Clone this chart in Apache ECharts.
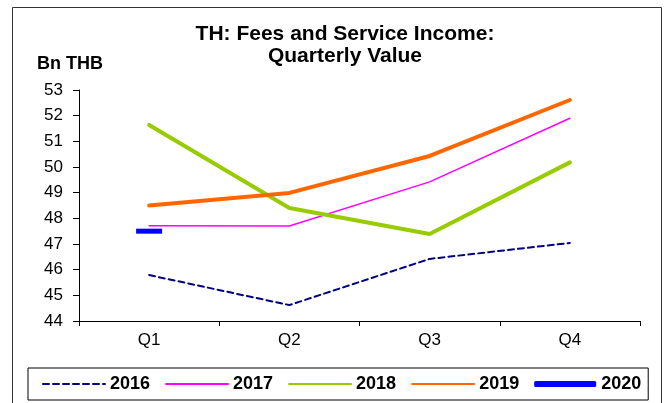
<!DOCTYPE html>
<html lang="en">
<head>
	<meta charset="UTF-8">
	<title>TH Fees and Service Income</title>
	<style>
		html, body { margin: 0; padding: 0; background: #fff; }
	</style>
</head>
<body>
	<div id="chart" style="width:667px;height:403px;"></div>
</body>
</html>
<script src="https://cdn.jsdelivr.net/npm/echarts@6/dist/echarts.min.js"></script>
<script>
	// quarterly data, Bn THB
	var quarters = ['Q1', 'Q2', 'Q3', 'Q4'];
	var years = ['2016', '2017', '2018', '2019', '2020'];
	var v2016 = [45.79, 44.62, 46.42, 47.04];
	var v2017 = [47.71, 47.70, 49.42, 51.90];
	var v2018 = [51.64, 48.40, 47.39, 50.18];
	var v2019 = [48.50, 48.99, 50.43, 52.61];
	var v2020 = [47.50, '-', '-', '-'];

	var lineColors = ['#000080', '#ff00ff', '#99cc00', '#ff6600', '#0000ff'];
	var lineWidths = [2, 1.5, 4, 4, 4];
	var allValues = [v2016, v2017, v2018, v2019, v2020];

	var font = 'Arial, "Liberation Sans", sans-serif';

	var series = [];
	for (var i = 0; i < years.length; i++) {
		var s = {
			name: years[i],
			type: 'line',
			data: allValues[i],
			symbol: 'none',
			lineStyle: {
				color: lineColors[i],
				width: lineWidths[i],
				type: i == 0 ? [6, 4] : 'solid',
				cap: 'round'
			},
			itemStyle: { color: lineColors[i] },
			z: 2 + i
		};
		if (years[i] == '2020') {
			// single point drawn as a short dash
			s.symbol = 'rect';
			s.symbolSize = [26, 5];
			s.showSymbol = true;
		}
		series.push(s);
	}

	var legendData = [];
	for (var j = 0; j < years.length; j++) {
		if (years[j] == '2020') {
			legendData.push({ name: years[j], icon: 'roundRect', itemStyle: { color: lineColors[j], opacity: 1 } });
		} else {
			legendData.push({ name: years[j] });
		}
	}

	var chart = echarts.init(document.getElementById('chart'));
	var option = {
		animation: false,
		backgroundColor: '#fff',
		title: {
			text: 'TH: Fees and Service Income:\nQuarterly Value',
			left: 345,
			top: 23,
			textAlign: 'center',
			padding: 0,
			textStyle: {
				fontFamily: font,
				fontSize: 21,
				fontWeight: 'bold',
				color: '#000',
				lineHeight: 22
			}
		},
		graphic: [
			{
				type: 'rect',
				shape: { x: 12.5, y: 7.5, width: 649, height: 400 },
				style: { fill: 'none', stroke: '#333', lineWidth: 1 },
				silent: true
			},
			{
				type: 'text',
				left: 37,
				top: 55,
				style: {
					text: 'Bn THB',
					font: 'bold 18px ' + font,
					fill: '#000'
				}
			}
		],
		legend: {
			left: 28,
			top: 368,
			padding: [7, 7, 7, 14],
			itemGap: 15,
			itemWidth: 62,
			itemHeight: 6,
			borderColor: '#000',
			borderWidth: 1,
			itemStyle: { color: 'transparent', opacity: 0 },
			data: legendData,
			textStyle: {
				fontFamily: font,
				fontSize: 18,
				fontWeight: 'bold',
				color: '#000'
			}
		},
		grid: {
			left: 79,
			right: 27,
			top: 90,
			bottom: 82
		},
		xAxis: {
			type: 'category',
			data: quarters,
			boundaryGap: true,
			axisLine: { lineStyle: { color: '#000', width: 1 } },
			axisTick: { show: true, inside: false, length: 5, lineStyle: { color: '#000' } },
			axisLabel: {
				margin: 11,
				fontFamily: font,
				fontSize: 17,
				color: '#000'
			},
			splitLine: { show: false }
		},
		yAxis: {
			type: 'value',
			min: 44,
			max: 53,
			interval: 1,
			axisLine: { show: true, lineStyle: { color: '#000', width: 1 } },
			axisTick: { show: true, inside: false, length: 6, lineStyle: { color: '#000' } },
			axisLabel: {
				margin: 16,
				fontFamily: font,
				fontSize: 17,
				color: '#000'
			},
			splitLine: { show: false }
		},
		series: series
	};
	chart.setOption(option);
</script>
